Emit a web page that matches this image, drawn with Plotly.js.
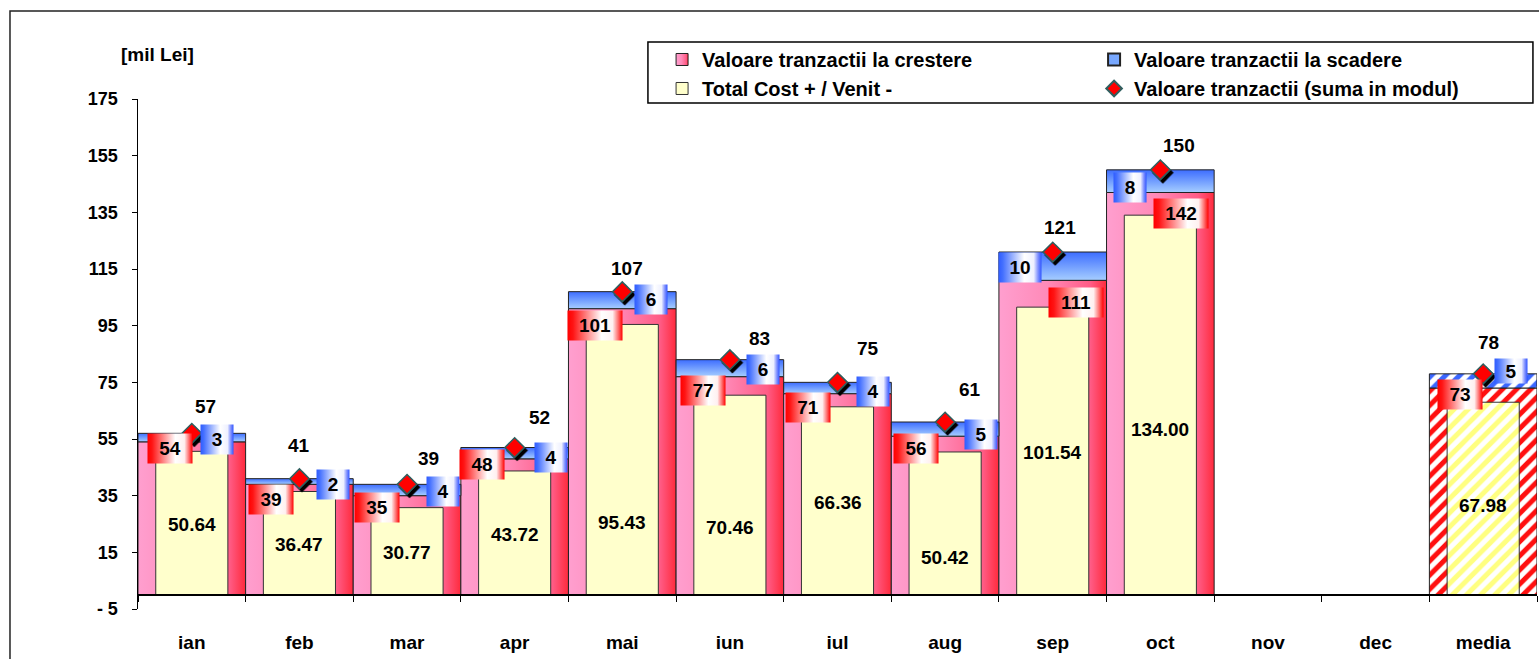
<!DOCTYPE html>
<html><head><meta charset="utf-8">
<script src="https://cdn.plot.ly/plotly-3.0.1.min.js"></script>
<style>html,body{margin:0;padding:0;background:#fff;overflow:hidden}#chart{width:1539px;height:659px}</style>
</head><body>
<svg id="gdefs" width="0" height="0" style="position:absolute;left:0;top:0">
<defs>
<linearGradient id="gRed" x1="0" y1="0" x2="1" y2="0">
<stop offset="0" stop-color="#ff9fcf"/><stop offset="0.45" stop-color="#ff8ab8"/><stop offset="0.85" stop-color="#ff5c86"/><stop offset="1" stop-color="#ff2a3c"/>
</linearGradient>
<linearGradient id="gBlue" x1="0" y1="0" x2="0" y2="1">
<stop offset="0" stop-color="#3d6dff"/><stop offset="1" stop-color="#a6ceff"/>
</linearGradient>
<linearGradient id="gRedLbl" x1="0" y1="0" x2="1" y2="0">
<stop offset="0" stop-color="#ff0000"/><stop offset="0.1" stop-color="#ff1414"/><stop offset="0.62" stop-color="#ffffff"/><stop offset="0.82" stop-color="#fff0f0"/><stop offset="0.92" stop-color="#ff7070"/><stop offset="1" stop-color="#ff0000"/>
</linearGradient>
<linearGradient id="gBlueLbl" x1="0" y1="0" x2="1" y2="0">
<stop offset="0" stop-color="#2f5cff"/><stop offset="0.1" stop-color="#4470ff"/><stop offset="0.6" stop-color="#ffffff"/><stop offset="0.82" stop-color="#eef0ff"/><stop offset="0.92" stop-color="#7f90ff"/><stop offset="1" stop-color="#2f55ff"/>
</linearGradient>
<filter id="dshadow" x="-60%" y="-60%" width="220%" height="220%">
<feDropShadow dx="2.5" dy="3" stdDeviation="0.4" flood-color="#000" flood-opacity="1"/>
</filter>
</defs></svg>
<div id="chart"></div>
<script>
// ---- data ----
const months = ['ian','feb','mar','apr','mai','iun','iul','aug','sep','oct','nov','dec','media'];
const crestere = [54, 39, 35, 48, 101, 77, 71, 56, 111, 142, null, null, 73];
const scadere = [3, 2, 4, 4, 6, 6, 4, 5, 10, 8, null, null, 5];
const totalCost = [50.64, 36.47, 30.77, 43.72, 95.43, 70.46, 66.36, 50.42, 101.54, 134.00, null, null, 67.98];
const sumaModul = [57, 41, 39, 52, 107, 83, 75, 61, 121, 150, null, null, 78];
const yTickVals = [-5, 15, 35, 55, 75, 95, 115, 135, 155, 175];
const yTickText = ['- 5', '15', '35', '55', '75', '95', '115', '135', '155', '175'];

// ---- label pixel offsets (styling, not data) ----
const redShift = [[-22,-7],[-28,-15],[-30,-12],[-33,-6],[-27,-17],[-27,-14],[-30,-14],[-29,-12],[23,-22],[21,-21],null,null,[-23,-6]];
const blueShift = [[25,-6],[34,-6],[36,-7],[36,-10],[29,-8],[33,-10],[35,-9],[36,-12],[-33,-15],[-30,-18],null,null,[28,3]];
const sumShift = [[14,27],[0,33],[21,26],[25,30],[5,23],[30,21],[30,34],[25,33],[7,25],[19,24],null,null,[5,31]];
const costShift = [70,50,42,60,72,67,92,37,142,165,null,null,89];

const FONT = 'Liberation Sans, Arial, sans-serif';
const MEDIA = months.length - 1;
const pat = (fg) => ({
  shape: months.map((m,i)=> i===MEDIA ? '/' : ''),
  fgcolor: fg, bgcolor: 'white', size: 10, solidity: 0.5, fillmode: 'replace'
});

const data = [
  {type:'bar', name:'Valoare tranzactii la crestere', x:months, y:crestere, width:1,
   marker:{color:'#ff7aa6', line:{color:'#222', width:1}, pattern:pat('#ff1010')},
   legend:'legend', legendgroup:'a', hoverinfo:'skip'},
  {type:'bar', name:'Valoare tranzactii la scadere', x:months, y:scadere, base:crestere, width:1,
   marker:{color:'#78a8ff', line:{color:'#222', width:1}, pattern:pat('#3a66ff')},
   legend:'legend2', legendgroup:'b', hoverinfo:'skip'},
  {type:'bar', name:'Total Cost + / Venit -', x:months, y:totalCost, width:0.67,
   marker:{color:'#ffffcc', line:{color:'#333', width:1}, pattern:pat('#ffff80')},
   legend:'legend', legendgroup:'c', hoverinfo:'skip'},
  {type:'scatter', mode:'markers', name:'Valoare tranzactii (suma in modul)', x:months, y:sumaModul,
   marker:{symbol:'diamond', size:15, color:'#ff0000', line:{color:'#2f5f5f', width:1.5}},
   legend:'legend2', legendgroup:'d', hoverinfo:'skip'}
];

const annKinds = [];
const annotations = [];
const lblFont = {family:FONT, size:19, color:'#000', weight:'bold'};
months.forEach((m,i)=>{
  if (crestere[i] == null) return;
  const rt = String(crestere[i]);
  annotations.push({xref:'x', yref:'y', x:m, y:crestere[i], text:rt, showarrow:false,
    xshift:redShift[i][0], yshift:redShift[i][1], width: rt.length>2?54:44, height:29,
    bgcolor:'#ffaaaa', borderpad:0, font:lblFont});
  annKinds.push('red');
  const bt = String(scadere[i]);
  annotations.push({xref:'x', yref:'y', x:m, y:sumaModul[i], text:bt, showarrow:false,
    xshift:blueShift[i][0], yshift:blueShift[i][1], width: bt.length>1?42:32, height: i===MEDIA?24:29,
    bgcolor:'#b0c0ff', borderpad:0, font:lblFont});
  annKinds.push('blue');
  annotations.push({xref:'x', yref:'y', x:m, y:sumaModul[i], text:String(sumaModul[i]), showarrow:false,
    xshift:sumShift[i][0], yshift:sumShift[i][1], font:lblFont});
  annKinds.push('sum');
  annotations.push({xref:'x', yref:'y', x:m, y:0, text:totalCost[i].toFixed(2), showarrow:false,
    yshift:costShift[i], bgcolor: i===MEDIA ? 'rgba(0,0,0,0)' : '#ffffcc', borderpad:1, font:lblFont});
  annKinds.push('cost');
});
annotations.push({xref:'paper', yref:'paper', x:0.0136, y:1.088, xanchor:'center', yanchor:'middle',
  text:'[mil Lei]', showarrow:false, font:{family:FONT, size:19, color:'#000', weight:'bold'}});
annKinds.push('unit');

const legFont = {family:FONT, size:20, color:'#000', weight:'bold'};
const layout = {
  width:1539, height:659,
  margin:{l:138, r:2, t:99, b:50, pad:0},
  paper_bgcolor:'#fff', plot_bgcolor:'rgba(0,0,0,0)',
  barmode:'overlay', bargap:0,
  font:{family:FONT, color:'#000'},
  showlegend:true,
  legend:{x:0.3746, y:1.1157, xanchor:'left', yanchor:'top', orientation:'v', font:legFont,
    bgcolor:'rgba(0,0,0,0)', borderwidth:0, traceorder:'grouped', tracegroupgap:0, itemwidth:30},
  legend2:{x:0.6834, y:1.1157, xanchor:'left', yanchor:'top', orientation:'v', font:legFont,
    bgcolor:'rgba(0,0,0,0)', borderwidth:0, traceorder:'grouped', tracegroupgap:0, itemwidth:30,
    itemsizing:'constant'},
  xaxis:{type:'category', categoryarray:months, categoryorder:'array', range:[-0.5, months.length-0.5],
    anchor:'free', position:5/180, showline:true, linecolor:'#000', linewidth:2,
    ticks:'outside', tickson:'boundaries', ticklen:6, tickwidth:1, tickcolor:'#000',
    ticklabelstandoff:30, showgrid:false, zeroline:false, fixedrange:true,
    tickfont:{family:FONT, size:19, color:'#000', weight:'bold'}},
  yaxis:{range:[-5,175], tickvals:yTickVals, ticktext:yTickText, showline:true, linecolor:'#000', linewidth:1.5,
    ticks:'outside', ticklen:5, tickwidth:1, tickcolor:'#000', ticklabelstandoff:10,
    showgrid:false, zeroline:false, fixedrange:true,
    tickfont:{family:FONT, size:18, color:'#000', weight:'bold'}},
  shapes:[
    {type:'rect', xref:'paper', yref:'paper', x0:-0.0915, x1:1.05, y0:-0.3, y1:1.1725, line:{color:'#222', width:1.5}},
    {type:'rect', xref:'paper', yref:'paper', x0:0.3645, x1:0.9971, y0:0.9922, y1:1.1118, line:{color:'#000', width:1.5}}
  ],
  annotations: annotations
};

const gd = document.getElementById('chart');
function decorate(){
  const fills = ['url(#gRed)','url(#gBlue)',null];
  gd.querySelectorAll('.barlayer .trace').forEach((t,k)=>{
    if(!fills[k]) return;
    t.querySelectorAll('path').forEach(p=>{
      const st = (p.getAttribute('style')||'') + (p.getAttribute('fill')||'');
      const d = p.parentNode && p.parentNode.__data__;
      if (st.indexOf('url(')>=0) return;
      if (d && d.p === MEDIA) return;
      p.style.fill = fills[k];
    });
  });
  gd.querySelectorAll('.scatterlayer .point').forEach(p=>{ p.style.filter = 'url(#dshadow)'; });
  gd.querySelectorAll('.annotation').forEach(a=>{
    const idx = +a.getAttribute('data-index');
    const r = a.querySelector('rect.bg');
    if(!r) return;
    if(annKinds[idx]==='red') r.style.fill='url(#gRedLbl)';
    else if(annKinds[idx]==='blue') r.style.fill='url(#gBlueLbl)';
  });
  gd.querySelectorAll('.infolayer g.traces').forEach(el=>{
    const t = (el.querySelector('.legendtext')||{}).textContent||'';
    const p = el.querySelector('.legendpoints path');
    if(!p) return;
    if(t.indexOf('crestere')>=0) p.style.fill='url(#gRed)';
    else if(t.indexOf('scadere')>=0) p.style.fill='url(#gBlue)';
  });
}
Plotly.newPlot(gd, data, layout, {staticPlot:true, displayModeBar:false}).then(decorate);
</script>
</body></html>
